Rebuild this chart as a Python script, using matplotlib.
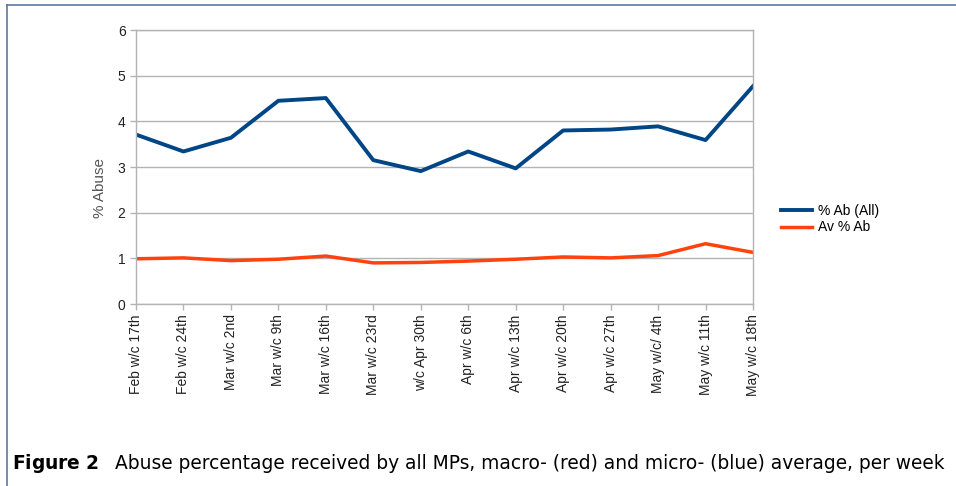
#!/usr/bin/env python3
import matplotlib
matplotlib.use("Agg")
import matplotlib.pyplot as plt
from matplotlib.lines import Line2D

# Data
weeks = [
    "Feb w/c 17th", "Feb w/c 24th", "Mar w/c 2nd", "Mar w/c 9th",
    "Mar w/c 16th", "Mar w/c 23rd", "w/c Apr 30th", "Apr w/c 6th",
    "Apr w/c 13th", "Apr w/c 20th", "Apr w/c 27th", "May w/c/ 4th",
    "May w/c 11th", "May w/c 18th",
]
abuse_all = [3.71, 3.34, 3.64, 4.45, 4.51, 3.15, 2.91, 3.34, 2.97, 3.80, 3.82, 3.89, 3.59, 4.77]
abuse_avg = [0.99, 1.01, 0.95, 0.98, 1.05, 0.90, 0.91, 0.94, 0.98, 1.03, 1.01, 1.06, 1.32, 1.13]

W, H = 956, 486
fig = plt.figure(figsize=(W / 100, H / 100), dpi=100)
plt.rcParams["font.family"] = ["Liberation Sans", "DejaVu Sans"]

# Axes placement in pixel terms
left, right, top, bottom = 136, 753, 30, 304
ax = fig.add_axes([left / W, 1 - bottom / H, (right - left) / W, (bottom - top) / H])

x = list(range(len(weeks)))
ax.plot(x, abuse_all, color="#004586", lw=2.8, label="% Ab (All)")
ax.plot(x, abuse_avg, color="#ff420e", lw=2.5, label="Av % Ab")

ax.set_xlim(0, len(weeks) - 1)
ax.set_ylim(0, 6)
ax.set_yticks(range(7))
ax.set_xticks(x)
ax.set_xticklabels(weeks, rotation=90, fontsize=10, color="#222222")
ax.tick_params(axis="y", labelsize=10, colors="#b3b3b3", labelcolor="#222222", length=4, width=1)
ax.tick_params(axis="x", colors="#b3b3b3", labelcolor="#222222", length=4, width=1)
ax.grid(axis="y", color="#b3b3b3", lw=1)
ax.set_axisbelow(True)
for s in ax.spines.values():
    s.set_color("#b3b3b3")
    s.set_linewidth(1)

# y axis title, placed where the reference has it
fig.text(100 / W, 1 - 188 / H, "% Abuse", rotation=90, fontsize=11, color="#555555",
         ha="center", va="center")

leg = ax.legend(loc="center left", bbox_to_anchor=(768 / W, 1 - 219 / H),
                bbox_transform=fig.transFigure, frameon=False, fontsize=10,
                handlelength=2.3, handletextpad=0.4, labelspacing=0.2)

# Outer frame (top and left edges visible)
frame_color = "#5a7aa0"
fig.add_artist(Line2D([7 / W, 1], [1 - 5 / H, 1 - 5 / H], color=frame_color, lw=1.2))
fig.add_artist(Line2D([7 / W, 7 / W], [0, 1 - 5 / H], color=frame_color, lw=1.2))

# Caption
fig.text(12 / W, 1 - 463 / H, r"$\bf{Figure\ 2}$", fontsize=13.4, va="center", ha="left",
         family="DejaVu Sans Condensed")
fig.text(115 / W, 1 - 463 / H,
         "Abuse percentage received by all MPs, macro- (red) and micro- (blue) average, per week",
         fontsize=13.45, va="center", ha="left", family="DejaVu Sans Condensed")

fig.savefig("out.png", dpi=100)
